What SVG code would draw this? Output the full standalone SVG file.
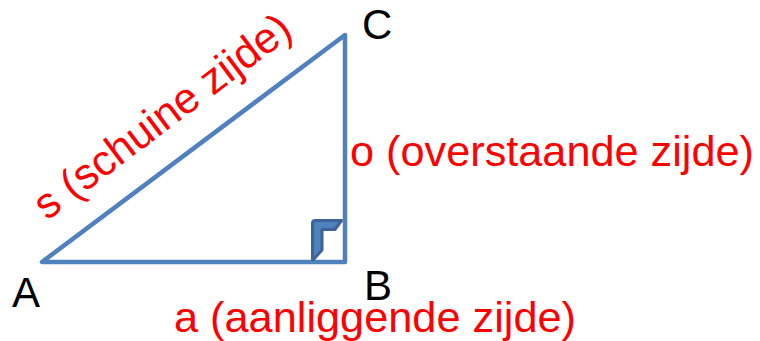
<svg xmlns="http://www.w3.org/2000/svg" width="760" height="341" viewBox="0 0 760 341">
  <style>
    .side { fill: none; stroke: #4f81bd; stroke-width: 4.5; stroke-linejoin: round; stroke-linecap: round; }
    .mark { fill: #4f81bd; stroke: #3d6398; stroke-width: 3; stroke-linejoin: round; }
    .vtx { font-family: "Liberation Sans", Arial, sans-serif; font-size: 42px; fill: #000000; }
    .lbl { font-family: "Liberation Sans", Arial, sans-serif; font-size: 43px; fill: #ff0000; }
  </style>
  <rect width="760" height="341" fill="#ffffff"/>
  <g id="triangle">
    <polygon class="side" points="42,262 345,262 345,35"/>
    <path class="mark" d="M312.5,223 Q312.5,220.5 315.5,220.5 L341.5,220.5 L335,229.5 L322,229.5 L322,250 L313.5,259.5 L312.5,259.5 Z"/>
  </g>
  <g id="vertex-A"><text class="vtx" x="12" y="307">A</text></g>
  <g id="vertex-B"><text class="vtx" x="364" y="300">B</text></g>
  <g id="vertex-C"><text class="vtx" x="362" y="39">C</text></g>
  <g id="label-s">
    <text class="lbl" transform="translate(47,221) rotate(-37)" x="0" y="0" textLength="310" lengthAdjust="spacingAndGlyphs">s (schuine zijde)</text>
  </g>
  <g id="label-o">
    <text class="lbl" x="350" y="166" textLength="404" lengthAdjust="spacingAndGlyphs">o (overstaande zijde)</text>
  </g>
  <g id="label-a">
    <text class="lbl" x="174" y="332" textLength="402" lengthAdjust="spacingAndGlyphs">a (aanliggende zijde)</text>
  </g>
</svg>
